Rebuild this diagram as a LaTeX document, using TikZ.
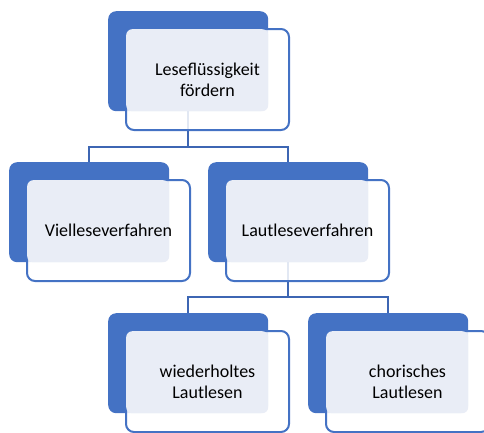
\documentclass[tikz,border=0pt]{standalone}
\usepackage{fontspec}
\setmainfont{Carlito}
\definecolor{accent}{HTML}{4472C4}
\definecolor{conn}{HTML}{3D66B3}
\definecolor{lightfill}{HTML}{E9EDF6}
\tikzset{
  backbox/.style={rectangle, fill=accent, rounded corners=8pt, minimum width=160pt, minimum height=100pt, inner sep=0pt, anchor=north west},
  frontbox/.style={rectangle, draw=accent, line width=2pt, fill=white, fill opacity=0.85, rounded corners=8pt, minimum width=163pt, minimum height=101pt, inner sep=0pt, anchor=north west},
  lightbox/.style={rectangle, fill=lightfill, rounded corners=6pt, inner sep=0pt, anchor=north west},
  labeltext/.style={font=\fontsize{18pt}{21pt}\selectfont, align=center, text=black, inner sep=0pt},
  connector/.style={draw=conn, line width=2.2pt}
}
\newcommand{\smartbox}[4]{%
  \node[backbox] (#1b) at (#2,#3) {};
  \node[frontbox] (#1w) at (#2+17,#3+17) {};
  \node[lightbox, minimum width=142pt, minimum height=82pt] (#1l) at (#2+18,#3+18) {};
  \node[labeltext] (#1t) at (#1w.center) {#4};
}
\begin{document}
\begin{tikzpicture}[x=1pt,y=-1pt]
\useasboundingbox (0,0) rectangle (484,432);
\clip (0,0) rectangle (484,432);
% connectors drawn first (behind boxes)
\coordinate (topc) at (188,111);
\coordinate (lautc) at (288,262);
\coordinate (vielc) at (89,162);
\coordinate (lautn) at (288,162);
\coordinate (wiedn) at (188,313);
\coordinate (chorn) at (388,313);
\draw[connector] (topc) -- ++(0,36) -| (vielc);
\draw[connector] (topc) -- ++(0,36) -| (lautn);
\draw[connector] (lautc) -- ++(0,35) -| (wiedn);
\draw[connector] (lautc) -- ++(0,35) -| (chorn);
\smartbox{top}{108}{11}{Leseflüssigkeit\\fördern}
\smartbox{viel}{9}{162}{Vielleseverfahren}
\smartbox{laut}{208}{162}{Lautleseverfahren}
\smartbox{wied}{108}{313}{wiederholtes\\Lautlesen}
\smartbox{chor}{308}{313}{chorisches\\Lautlesen}
\end{tikzpicture}
\end{document}
